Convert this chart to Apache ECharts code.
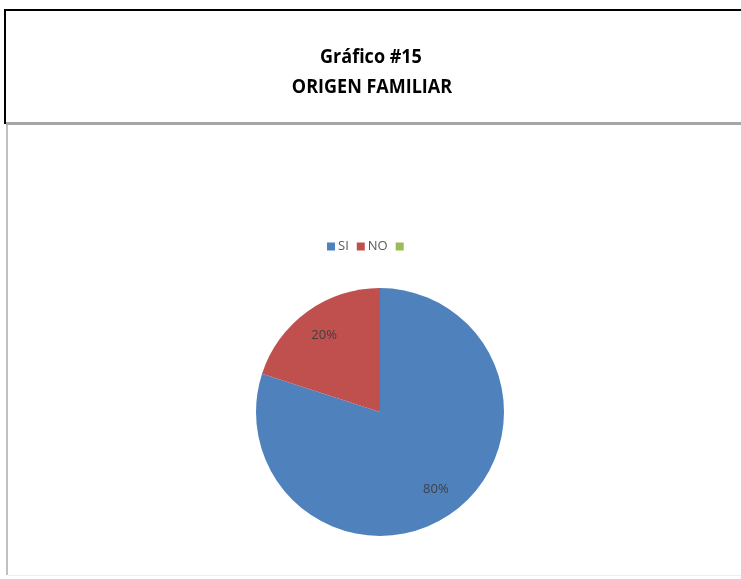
<!DOCTYPE html>
<html><head><meta charset="utf-8">
<script src="https://cdn.jsdelivr.net/npm/echarts@6/dist/echarts.min.js"></script>
<style>html,body{margin:0;padding:0;background:#fff}#c{width:741px;height:579px}</style>
</head><body><div id="c"></div>
<script>
const titleLines = ['Gráfico #15', 'ORIGEN FAMILIAR'];
const categories = ['SI', 'NO', ' '];
const values = [80, 20, 0];
const colors = ['#4F81BD', '#C0504D', '#9BBB59'];

const chart = echarts.init(document.getElementById('c'));
const pieData = categories.map((n, i) => ({ name: n, value: values[i], itemStyle: { color: colors[i] } }));
chart.setOption({
  animation: false,
  graphic: [
    { type: 'rect', shape: { x: 5, y: 10, width: 760, height: 113 }, style: { fill: '#fff', stroke: '#000', lineWidth: 2 }, z: 0 },
    { type: 'rect', shape: { x: 6, y: 122, width: 740, height: 3 }, style: { fill: '#a6a6a6' }, z: 1 },
    { type: 'rect', shape: { x: 6, y: 125, width: 2, height: 450 }, style: { fill: '#c0c0c0' }, z: 1 },
    { type: 'rect', shape: { x: 8, y: 575, width: 740, height: 1 }, style: { fill: '#eeeeee' }, z: 1 },
    { type: 'text', x: 371, y: 57, scaleX: 0.9, style: { text: titleLines[0], font: 'bold 20px "Open Sans", sans-serif', fill: '#000', align: 'center', verticalAlign: 'middle' }, z: 2 },
    { type: 'text', x: 372, y: 87, scaleX: 0.9, style: { text: titleLines[1], font: 'bold 20px "Open Sans", sans-serif', fill: '#000', align: 'center', verticalAlign: 'middle' }, z: 2 }
  ],
  legend: {
    data: categories, left: 322, top: 235, itemWidth: 8, itemHeight: 8, itemGap: 8,
    icon: 'rect', selectedMode: false,
    textStyle: { color: '#595959', fontSize: 13, fontFamily: '"Open Sans", sans-serif', padding: [0, 0, 0, -2] }
  },
  series: [
    {
      type: 'pie', center: [380, 412], radius: [0, 124], startAngle: 90, clockwise: true,
      label: { show: false }, labelLine: { show: false }, data: pieData, silent: true
    },
    {
      type: 'pie', center: [380, 412], radius: [60, 124], startAngle: 90, clockwise: true, silent: true,
      itemStyle: { color: 'rgba(0,0,0,0)' },
      label: { show: true, position: 'inside', formatter: p => p.value > 0 ? p.value + '%' : '', color: '#404040', fontSize: 13, fontFamily: '"Open Sans", sans-serif' },
      labelLine: { show: false },
      data: categories.map((n, i) => ({ name: n, value: values[i], itemStyle: { color: 'rgba(0,0,0,0)' } }))
    }
  ]
});
</script></body></html>
